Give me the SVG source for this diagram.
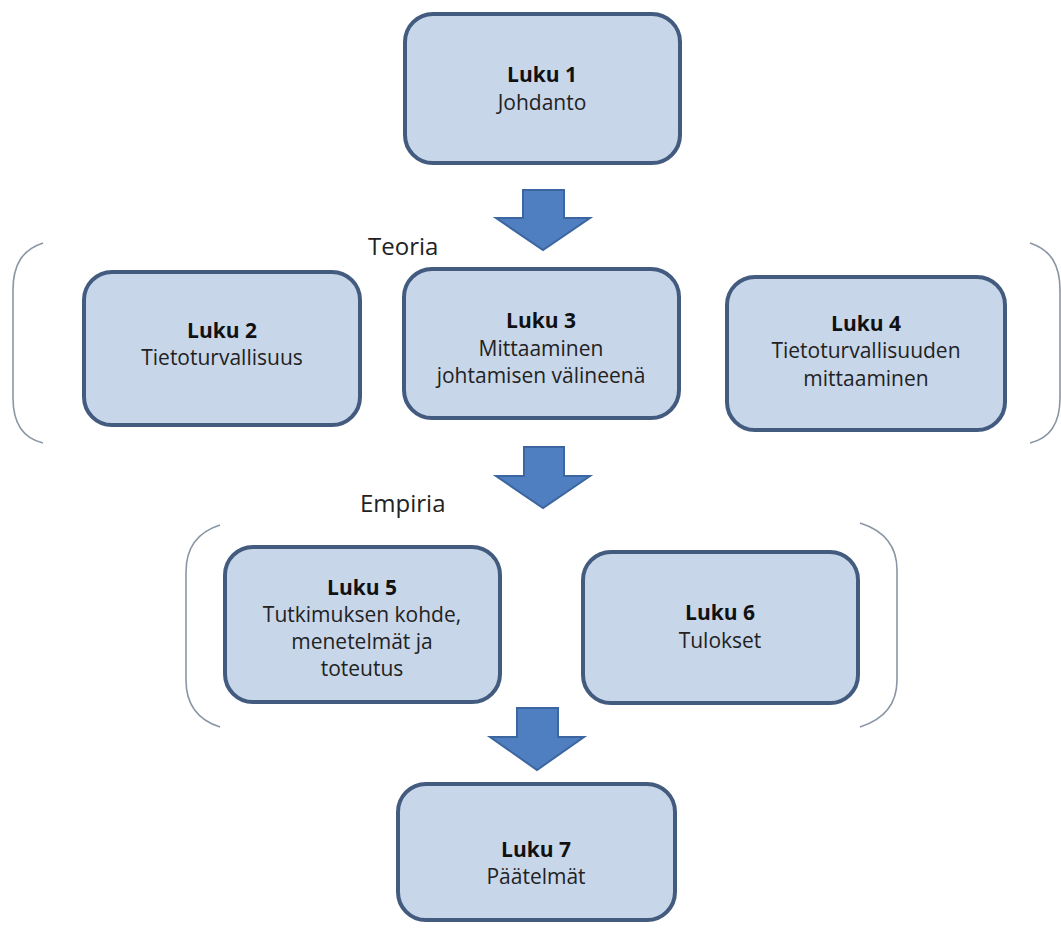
<svg xmlns="http://www.w3.org/2000/svg" width="1061" height="928" viewBox="0 0 1061 928">
<style>
.box{fill:#c8d6ea;stroke:#425b7f;stroke-width:4}
.t{font-family:"Open Sans","Noto Sans",sans-serif;font-size:21px;fill:#222;text-anchor:middle}
.b{font-weight:bold;fill:#111}
.lbl{font-family:"Open Sans","Noto Sans",sans-serif;font-size:24px;fill:#222}
.arrow{fill:#4f7fc0;stroke:#3c669f;stroke-width:2}
.br{fill:none;stroke:#8a96a4;stroke-width:1.6}
</style>
<rect width="1061" height="928" fill="#ffffff"/>
<g id="brackets">
<path class="br" d="M43,243 C22,250 13,265 13,290 L13,398 C13,423 22,438 43,443"/>
<path class="br" d="M1030,243 C1051,250 1060,265 1060,290 L1060,398 C1060,423 1051,438 1030,443"/>
<path class="br" d="M220,525 C198,532 186,547 186,572 L186,680 C186,705 198,720 220,727"/>
<path class="br" d="M860,523 C882,530 897,545 897,570 L897,680 C897,705 882,720 860,727"/>
</g>
<g id="labels">
<text class="lbl" x="368" y="255">Teoria</text>
<text class="lbl" x="360" y="512">Empiria</text>
</g>
<g id="connectors">
<path class="arrow" d="M523,190 L564,190 L564,218 L590,218 L543,250 L496,218 L523,218 Z"/>
<path class="arrow" d="M524,447 L564,447 L564,476 L590,476 L543,508 L496,476 L524,476 Z"/>
<path class="arrow" d="M517,708 L558,708 L558,737 L584,737 L537,770 L490,737 L517,737 Z"/>
</g>
<g id="n1">
<rect class="box" x="405" y="14" width="275" height="149" rx="28"/>
<text class="t b" x="542" y="82">Luku 1</text>
<text class="t" x="542" y="110">Johdanto</text>
</g>
<g id="n2">
<rect class="box" x="84" y="272" width="276" height="153" rx="28"/>
<text class="t b" x="222" y="338">Luku 2</text>
<text class="t" x="222" y="365">Tietoturvallisuus</text>
</g>
<g id="n3">
<rect class="box" x="404" y="269" width="275" height="149" rx="28"/>
<text class="t b" x="541" y="328">Luku 3</text>
<text class="t" x="541" y="356">Mittaaminen</text>
<text class="t" x="541" y="383">johtamisen välineenä</text>
</g>
<g id="n4">
<rect class="box" x="727" y="277" width="278" height="153" rx="28"/>
<text class="t b" x="866" y="331">Luku 4</text>
<text class="t" x="866" y="358">Tietoturvallisuuden</text>
<text class="t" x="866" y="386">mittaaminen</text>
</g>
<g id="n5">
<rect class="box" x="225" y="547" width="275" height="155" rx="28"/>
<text class="t b" x="362" y="595">Luku 5</text>
<text class="t" x="362" y="622">Tutkimuksen kohde,</text>
<text class="t" x="362" y="649">menetelmät ja</text>
<text class="t" x="362" y="676">toteutus</text>
</g>
<g id="n6">
<rect class="box" x="583" y="552" width="275" height="151" rx="28"/>
<text class="t b" x="720" y="620">Luku 6</text>
<text class="t" x="720" y="648">Tulokset</text>
</g>
<g id="n7">
<rect class="box" x="398" y="784" width="277" height="136" rx="28"/>
<text class="t b" x="536" y="857">Luku 7</text>
<text class="t" x="536" y="884">Päätelmät</text>
</g>
</svg>
